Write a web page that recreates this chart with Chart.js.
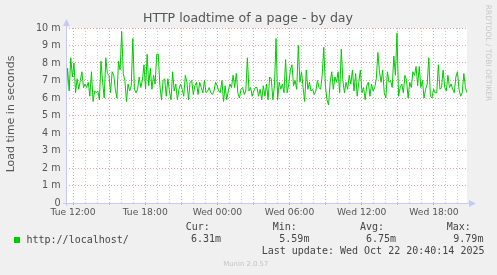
<!DOCTYPE html>
<html><head><meta charset="utf-8">
<script src="https://cdn.jsdelivr.net/npm/chart.js@4"></script>
<style>html,body{margin:0;padding:0;background:#f0f0f0;}#c{display:block;}</style>
</head><body>
<canvas id="c" width="497" height="275"></canvas>
<script>
const title = "HTTP loadtime of a page - by day";
const yAxisTitle = "Load time in seconds";
const seriesName = "http://localhost/";
const startHour = 11.4167;   // Tue 11:25 (hours since Tue 00:00)
const endHour = 44.75;       // Wed 20:45
const xTickHours = [12, 18, 24, 30, 36, 42];
const xTickLabels = ["Tue 12:00", "Tue 18:00", "Wed 00:00", "Wed 06:00", "Wed 12:00", "Wed 18:00"];
const yMax = 10;
const statLabels = ["Cur:", "Min:", "Avg:", "Max:"];
const statValues = ["6.31m", "5.59m", "6.75m", "9.79m"];
const lastUpdate = "Last update: Wed Oct 22 20:40:14 2025";
// load time in milliseconds, evenly spaced over the period
const loadTime = [
5.9,7.7,6.4,8.3,7.2,8.0,6.3,7.1,6.5,7.0,
7.5,6.6,6.8,6.6,6.9,6.1,7.5,5.8,6.4,6.3,
6.4,5.9,8.1,6.9,6.0,8.3,7.4,7.3,6.3,7.5,
7.3,6.5,6.0,8.1,7.6,9.8,7.4,7.0,5.8,6.8,
6.4,6.7,9.4,6.5,6.3,6.5,7.2,6.6,7.0,7.9,
6.5,8.5,6.7,7.7,6.5,7.3,6.8,8.5,8.5,6.7,
5.9,7.0,7.1,6.1,7.1,6.4,5.9,7.5,6.4,6.8,
5.9,6.5,6.8,6.5,6.1,7.3,6.9,5.9,6.9,7.0,
6.2,6.7,6.9,6.2,6.9,6.6,6.3,7.0,6.3,6.4,
6.6,6.3,6.2,6.4,6.9,6.7,6.4,6.3,7.0,5.8,
6.7,5.9,6.4,6.8,6.6,7.3,6.6,7.4,6.3,6.0,
6.5,6.6,6.2,6.4,8.3,6.4,6.6,6.1,6.4,6.6,
6.6,6.1,6.5,5.9,6.7,6.1,6.8,5.9,7.2,7.1,
5.9,6.7,9.4,5.9,6.9,6.5,6.8,6.3,8.2,6.3,
6.8,7.6,7.9,6.7,7.0,6.5,9.0,6.9,7.5,6.6,
5.8,7.6,6.5,6.9,6.4,6.5,6.2,6.4,7.0,6.6,
6.5,7.3,8.9,6.7,5.9,5.6,6.9,7.5,6.5,7.2,
6.9,7.5,6.3,8.8,7.0,6.3,6.9,6.5,7.3,6.8,
7.6,6.4,7.4,6.1,6.9,7.6,6.3,6.6,5.9,6.7,
6.9,6.1,6.8,6.4,6.6,7.1,8.6,7.5,6.9,7.6,
6.3,6.0,7.5,6.9,7.0,6.6,8.4,7.3,9.7,6.1,
6.6,6.8,6.3,7.3,7.0,6.0,6.9,6.6,7.5,7.3,
7.8,6.7,7.8,6.6,7.0,6.0,6.5,6.8,8.3,6.1,
6.0,6.5,6.3,6.3,7.9,6.5,6.6,7.6,6.6,6.4,
7.3,6.6,6.8,6.5,6.3,7.2,7.5,6.5,6.1,6.3,
7.4,6.6,6.3
];

const MAJOR = 'rgba(225,130,130,0.75)';
const MINOR = 'rgba(185,185,185,0.75)';
const AXIS = '#c8c8f6';
const TEXT = '#555555';
const step = (endHour - startHour) / (loadTime.length - 1);
const points = loadTime.map((v, i) => ({ x: startHour + i * step, y: v }));

const decor = {
  id: 'decor',
  beforeDraw(chart) {
    const { ctx, chartArea: a } = chart;
    ctx.save();
    ctx.fillStyle = '#f0f0f0';
    ctx.fillRect(0, 0, chart.width, chart.height);
    ctx.fillStyle = '#ffffff';
    ctx.fillRect(a.left, a.top, a.right - a.left, a.bottom - a.top);
    ctx.restore();
  },
  afterDraw(chart) {
    const { ctx, chartArea: a } = chart;
    ctx.save();
    // axes with arrows
    ctx.strokeStyle = AXIS; ctx.fillStyle = AXIS; ctx.lineWidth = 1;
    ctx.beginPath();
    ctx.moveTo(a.left + 0.5, a.bottom + 3); ctx.lineTo(a.left + 0.5, a.top - 4);
    ctx.moveTo(a.left - 3, a.bottom + 0.5); ctx.lineTo(a.right + 4, a.bottom + 0.5);
    ctx.stroke();
    ctx.beginPath();
    ctx.moveTo(a.left + 0.5, a.top - 9); ctx.lineTo(a.left - 3, a.top - 2); ctx.lineTo(a.left + 4, a.top - 2); ctx.closePath(); ctx.fill();
    ctx.beginPath();
    ctx.moveTo(a.right + 9, a.bottom + 0.5); ctx.lineTo(a.right + 2, a.bottom - 3); ctx.lineTo(a.right + 2, a.bottom + 4); ctx.closePath(); ctx.fill();

    ctx.textBaseline = 'middle';
    // title
    ctx.fillStyle = TEXT;
    ctx.font = '12.6px "DejaVu Sans"';
    ctx.textAlign = 'center';
    ctx.fillText(title, 248, 19);
    // y axis title
    ctx.save();
    ctx.translate(11, 114);
    ctx.rotate(-Math.PI / 2);
    ctx.font = '11px "DejaVu Sans"';
    ctx.fillText(yAxisTitle, 0, 0);
    ctx.restore();
    // watermark
    ctx.save();
    ctx.translate(487.5, 53);
    ctx.rotate(Math.PI / 2);
    ctx.fillStyle = '#c8c8c8';
    ctx.font = '7.5px "DejaVu Sans"';
    ctx.fillText('RRDTOOL / TOBI OETIKER', 0, 0);
    ctx.restore();
    // legend
    ctx.fillStyle = '#00cc00';
    ctx.fillRect(14, 237, 6, 6);
    ctx.fillStyle = '#444444';
    ctx.font = '10px "DejaVu Sans Mono"';
    ctx.textAlign = 'left';
    ctx.fillText(seriesName, 26.5, 240);
    const labelX = [185.7, 272.7, 360, 446.7];
    const valueX = [191, 279.3, 366, 453.3];
    statLabels.forEach((s, i) => ctx.fillText(s, labelX[i], 227.7));
    statValues.forEach((s, i) => ctx.fillText(s, valueX[i], 239.5));
    ctx.fillText(lastUpdate, 261.7, 251);
    ctx.fillStyle = '#c4c4c4';
    ctx.font = '6.9px "DejaVu Sans"';
    ctx.fillText('Munin 2.0.57', 223.3, 264.3);
    ctx.restore();
  }
};

new Chart(document.getElementById('c'), {
  type: 'line',
  data: { datasets: [{ label: seriesName, data: points, borderColor: '#00cc00', borderWidth: 1,
    pointRadius: 0, tension: 0, fill: false }] },
  options: {
    responsive: false, animation: false, events: [],
    layout: { padding: { left: 0, top: 28, right: 30, bottom: 0 } },
    plugins: { legend: { display: false }, tooltip: { enabled: false }, title: { display: false } },
    scales: {
      x: {
        type: 'linear', min: startHour, max: endHour,
        afterFit(s) { s.height = 72; },
        afterBuildTicks(s) {
          const t = [];
          for (let h = Math.ceil(startHour); h <= endHour; h++) t.push({ value: h });
          s.ticks = t;
        },
        border: { display: false, dash: [1, 2] },
        grid: {
          color: c => (c.tick && c.tick.value % 3 === 0) ? MAJOR : MINOR,
          tickColor: c => (c.tick && c.tick.value % 3 === 0) ? MAJOR : 'rgba(0,0,0,0)',
          lineWidth: 1, drawTicks: true, tickLength: 2
        },
        ticks: {
          autoSkip: false, maxRotation: 0, padding: 2, color: TEXT,
          font: { family: 'DejaVu Sans', size: 9.2 },
          callback: v => { const i = xTickHours.indexOf(v); return i >= 0 ? xTickLabels[i] : ''; }
        }
      },
      y: {
        min: 0, max: yMax,
        afterFit(s) { s.width = 66; },
        border: { display: false, dash: [1, 2] },
        grid: {
          color: c => (c.tick && c.tick.value % 1 === 0) ? MAJOR : MINOR,
          lineWidth: 1, drawTicks: false
        },
        ticks: {
          stepSize: 0.5, padding: 5.5, color: TEXT,
          font: { family: 'DejaVu Sans', size: 9.6 },
          callback: v => (v % 1 === 0) ? (v === 0 ? '0' : v + ' m') : ''
        }
      }
    }
  },
  plugins: [decor]
});
</script>
</body></html>
